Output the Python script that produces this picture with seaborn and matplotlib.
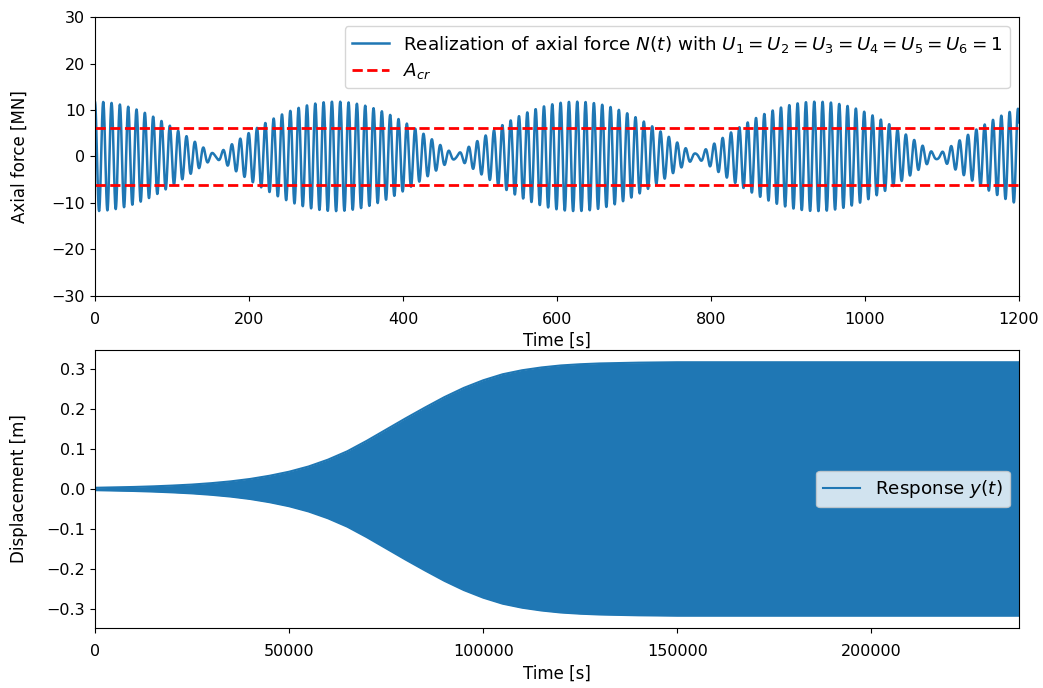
import numpy as np
import pandas as pd
import matplotlib
matplotlib.use("Agg")
import matplotlib.pyplot as plt
import seaborn as sns

# ---- top panel: axial force realisation N(t) = sum U_i * (a_i cos + b_i sin)
U_values = [1, 1, 1, 1, 1, 1]
freq_hz = [0.0910, 0.0942, 0.0926]          # three harmonic components
cos_amp = [6.2, 5.6, 0.0]                   # MN
sin_amp = [0.0, 0.0, 0.0]                   # MN
A_cr = 6.1                                  # MN
t_force_end = 1200.0

# ---- bottom panel: envelope of response y(t)
t_env = [0, 5000, 10000, 15000, 20000, 25000, 30000, 35000, 40000, 45000,
         50000, 55000, 60000, 65000, 70000, 75000, 80000, 85000, 90000,
         95000, 100000, 105000, 110000, 115000, 120000, 125000, 130000,
         140000, 150000, 175000, 200000, 238000]
y_env = [0.003, 0.004, 0.005, 0.0065, 0.0085, 0.011, 0.0145, 0.019, 0.025,
         0.033, 0.043, 0.056, 0.073, 0.094, 0.120, 0.148, 0.176, 0.203,
         0.229, 0.252, 0.271, 0.286, 0.296, 0.303, 0.308, 0.311, 0.313,
         0.315, 0.316, 0.316, 0.316, 0.316]
t_resp_end = 238000

fig, (ax1, ax2) = plt.subplots(2, 1, figsize=(10.43, 6.88), dpi=100)
plt.subplots_adjust(left=0.091, right=0.977, top=0.975, bottom=0.087, hspace=0.195)

fs_tick = 11.5
fs_lab = 12
fs_leg = 13.2
blue = "#1f77b4"

t = np.linspace(0, t_force_end, 6001)
N = np.zeros_like(t)
for k, f in enumerate(freq_hz):
    w = 2 * np.pi * f
    N += U_values[2 * k] * cos_amp[k] * np.cos(w * t) + U_values[2 * k + 1] * sin_amp[k] * np.sin(w * t)

df_force = pd.DataFrame({"t": t, "N": N})
sns.lineplot(data=df_force, x="t", y="N", ax=ax1, color=blue, lw=1.8,
             estimator=None, sort=False,
             label=r"Realization of axial force $N(t)$ with $U_1=U_2=U_3=U_4=U_5=U_6=1$")
sns.lineplot(x=[0, t_force_end], y=[A_cr, A_cr], ax=ax1, color="red", ls="--", lw=2,
             label=r"$A_{cr}$")
sns.lineplot(x=[0, t_force_end], y=[-A_cr, -A_cr], ax=ax1, color="red", ls="--", lw=2,
             label="_nolegend_")
ax1.set_xlim(0, t_force_end)
ax1.set_ylim(-30, 30)
ax1.set_xlabel("Time [s]", fontsize=fs_lab, labelpad=4)
ax1.set_ylabel("Axial force [MN]", fontsize=fs_lab)
ax1.tick_params(labelsize=fs_tick)
ax1.tick_params(axis="x", pad=8)
ax1.legend(loc="upper right", fontsize=fs_leg, labelspacing=0.35)

env = np.array(y_env)
ax2.fill_between(t_env, -env, env, color=blue, lw=0)
sns.lineplot(x=t_env, y=env, ax=ax2, color=blue, lw=1.5, label=r"Response $y(t)$")
sns.lineplot(x=t_env, y=-env, ax=ax2, color=blue, lw=1.5, label="_nolegend_")
ax2.set_xlim(0, t_resp_end)
ax2.set_ylim(-0.347, 0.347)
ax2.set_xlabel("Time [s]", fontsize=fs_lab, labelpad=4)
ax2.set_ylabel("Displacement [m]", fontsize=fs_lab)
ax2.tick_params(labelsize=fs_tick)
ax2.tick_params(axis="x", pad=8)
ax2.legend(loc="center right", fontsize=fs_leg)

for ax in (ax1, ax2):
    ax.yaxis.set_label_coords(-0.072, 0.5)

fig.savefig("out.png", dpi=100)
